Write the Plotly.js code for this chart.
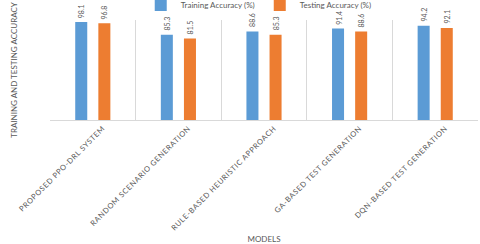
<!DOCTYPE html>
<html><head><meta charset="utf-8">
<script src="https://cdn.plot.ly/plotly-3.0.1.min.js"></script>
<style>
html,body{margin:0;padding:0;background:#fff;}
#chart{width:480px;height:244px;}
.xtick text{letter-spacing:0.6px;}
</style>
</head><body>
<div id="chart"></div>
<script>
const models = ["PROPOSED PPO-DRL SYSTEM","RANDOM SCENARIO GENERATION","RULE-BASED HEURISTIC APPROACH","GA-BASED TEST GENERATION","DQN-BASED TEST GENERATION"];
const trainingAcc = [98.1, 85.3, 88.6, 91.4, 94.2];
const testingAcc = [96.8, 81.5, 85.3, 88.6, 92.1];
const seriesNames = ["Training Accuracy (%)", "Testing Accuracy (%)"];
const colors = ["#5B9BD5", "#ED7D31"];
const txt = "#595959";
const font = "Lato, 'Open Sans', sans-serif";

function mk(vals, i){
  return {
    type:"bar", x:models, y:vals, name:seriesNames[i],
    marker:{color:colors[i]},
    hoverinfo:"skip"
  };
}
const data=[mk(trainingAcc,0), mk(testingAcc,1)];
const annotations=[];
[trainingAcc, testingAcc].forEach((vals,i)=>{
  vals.forEach((v,j)=>{
    annotations.push({x:models[j], y:v, xref:"x", yref:"y", text:v.toFixed(1),
      showarrow:false, textangle:-90, yanchor:"bottom", xanchor:"center",
      xshift: i===0 ? -11.5 : 11.5, yshift:2,
      font:{family:font, size:7, color:txt}});
  });
});
const layout={
  width:480, height:244,
  margin:{l:50, r:2, t:20, b:124, autoexpand:false},
  paper_bgcolor:"#fff", plot_bgcolor:"#fff",
  barmode:"group", bargap:0.46, bargroupgap:0.48,
  font:{family:font, color:txt},
  showlegend:true,
  annotations:annotations,
  legend:{orientation:"h", x:0.212, xanchor:"left", y:1.15, yanchor:"middle",
          bgcolor:"rgba(0,0,0,0)",
          font:{family:font, size:8, color:txt}, itemwidth:30, tracegroupgap:0},
  xaxis:{type:"category", tickson:"boundaries", showgrid:true, gridcolor:"#d9d9d9", gridwidth:1,
         showline:true, linecolor:"#d9d9d9", ticks:"", tickangle:-45, ticklabelshift:10,
         tickfont:{family:font, size:7.5, color:txt}, automargin:false,
         title:{text:"MODELS", font:{family:font, size:8, color:txt}, standoff:6}},
  yaxis:{range:[0,100], showgrid:false, zeroline:false, showticklabels:false, ticks:"",
         title:{text:"TRAINING AND TESTING ACCURACY", font:{family:font, size:8, color:txt}, standoff:30}}
};
Plotly.newPlot("chart", data, layout, {displayModeBar:false, staticPlot:true});
</script>
</body></html>
